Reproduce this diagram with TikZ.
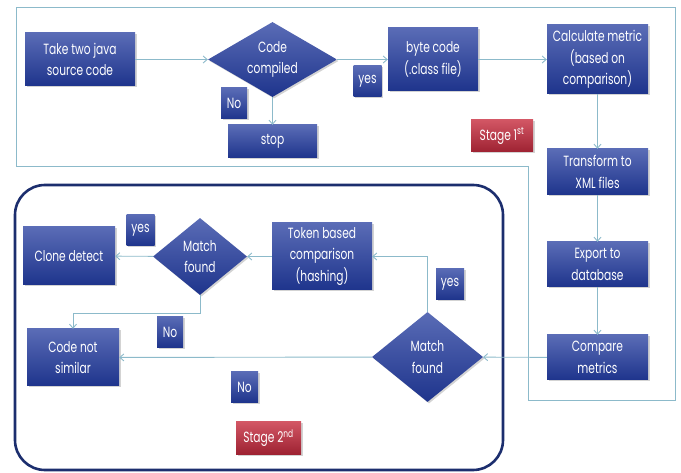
\documentclass[tikz,border=0pt]{standalone}
\usepackage{fontspec}
\setmainfont{Poppins}[FakeStretch=0.72]
\usepackage{tikz}
\usetikzlibrary{arrows.meta}
\usetikzlibrary{shapes.geometric}
\usetikzlibrary{shadows}
\definecolor{boxtop}{RGB}{90,108,182}
\definecolor{boxbot}{RGB}{30,52,140}
\definecolor{redtop}{RGB}{210,86,100}
\definecolor{redbot}{RGB}{158,34,50}
\definecolor{link}{RGB}{140,186,202}
\definecolor{navy}{RGB}{28,46,110}

\tikzset{
  blk/.style={rectangle, top color=boxtop, bottom color=boxbot, text=white, align=center,
    inner sep=0pt, font=\fontsize{14.8}{21.5}\selectfont,
    drop shadow={opacity=0.35, shadow xshift=1.5pt, shadow yshift=-1.5pt}},
  dec/.style={blk, diamond, aspect=1.6},
  tag/.style={blk, minimum width=28pt, minimum height=31pt},
  stagebox/.style={blk, top color=redtop, bottom color=redbot, minimum height=32pt},
  conn/.style={draw=link, line width=0.9pt, -{Straight Barb[length=4pt,width=7pt]}}
}

\begin{document}
\begin{tikzpicture}[x=1pt, y=-1pt]
\useasboundingbox (0,0) rectangle (681,473);
% stage frames
\draw[link, line width=1pt] (16,8) -- (675,8) -- (675,401) -- (528,401) -- (528,167) -- (16,167) -- cycle;
\draw[navy, line width=2.6pt, rounded corners=30pt] (15,185) rectangle (503,470);

% stage 1
\node[blk, minimum width=110pt, minimum height=53pt] (take) at (80,59.5) {Take two java\\source code};
\node[dec, minimum width=129pt, minimum height=75pt] (compiled) at (272.5,59.5) {Code\\compiled};
\node[tag, minimum width=26pt] (no1) at (234,103.5) {No};
\node[blk, minimum width=89pt, minimum height=33pt] (stop) at (272.5,141.5) {stop};
\node[tag] (yes1) at (367.5,81.5) {yes};
\node[blk, minimum width=90pt, minimum height=63pt] (byte) at (433,59.5) {byte code\\(.class file)};
\node[blk, minimum width=101pt, minimum height=69pt] (calc) at (597.5,59.5) {Calculate metric\\(based on\\comparison)};
\node[stagebox, minimum width=62pt] (stage1) at (502,136) {Stage 1\textsuperscript{st}};
\node[blk, minimum width=101pt, minimum height=46pt] (xml) at (597.5,172) {Transform to\\XML files};
\node[blk, minimum width=101pt, minimum height=45pt] (export) at (597.5,264.5) {Export to\\database};
\node[blk, minimum width=101pt, minimum height=45pt] (compare) at (597.5,357.5) {Compare\\metrics};

% stage 2
\node[dec, minimum width=111pt, minimum height=90pt, aspect=1.2] (match2) at (427.5,357) {Match\\found};
\node[tag] (yes2) at (450,284) {yes};
\node[blk, minimum width=100pt, minimum height=67pt] (token) at (322,256.5) {Token based\\comparison\\(hashing)};
\node[dec, minimum width=94pt, minimum height=77pt, aspect=1.2] (match1) at (200,256.5) {Match\\found};
\node[tag] (yes3) at (140.5,230) {yes};
\node[blk, minimum width=92pt, minimum height=58pt] (clone) at (69,256) {Clone detect};
\node[tag, minimum width=26pt] (no2) at (170,332) {No};
\node[blk, minimum width=92pt, minimum height=57pt] (notsim) at (73,357.5) {Code not\\similar};
\node[tag, minimum width=27pt] (no3) at (244.5,387) {No};
\node[stagebox, minimum width=65pt] (stage2) at (268.5,438) {Stage 2\textsuperscript{nd}};

\draw[conn] (take) -- (compiled);
\draw[conn] (compiled) -- (stop);
\draw[conn] (compiled) -- (byte);
\draw[conn] (byte) -- (calc);
\draw[conn] (calc) -- (xml);
\draw[conn] (xml) -- (export);
\draw[conn] (export) -- (compare);
\draw[conn] (compare) -- (match2);
\draw[conn] (match2.north) |- (token.east);
\draw[conn] (token) -- (match1);
\draw[conn] (match1) -- (clone);
\draw[conn] (match1.south) -- ++(0,18) -| (notsim.north);
\draw[conn] (match2) -- (notsim);
\end{tikzpicture}
\end{document}
